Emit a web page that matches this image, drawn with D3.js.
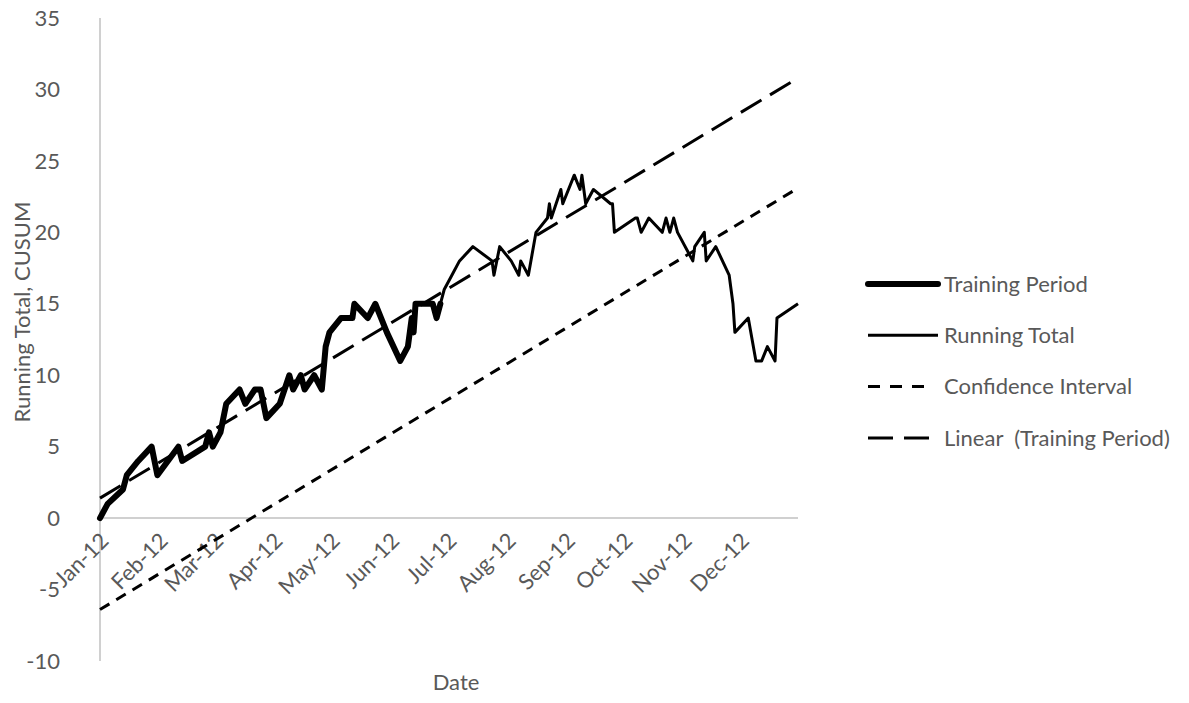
<!DOCTYPE html>
<html>
<head>
<meta charset="utf-8">
<script src="https://cdn.jsdelivr.net/npm/d3@7"></script>
<style>
  body { margin: 0; background: #fff; }
  text { font-family: Lato, "Noto Sans", sans-serif; fill: #595959; white-space: pre; }
</style>
</head>
<body>
<div id="chart"></div>
<script>
// Configurations
const width = 1189;
const height = 703;
const plot = { left: 100, right: 798, top: 18, bottom: 661 };

// CUSUM running total (date, value)
const dates = [
  "2012-01-01", "2012-01-05", "2012-01-13", "2012-01-15", "2012-01-21", "2012-01-28", "2012-01-31",
  "2012-02-11", "2012-02-13", "2012-02-25", "2012-02-27", "2012-02-29", "2012-03-04", "2012-03-07",
  "2012-03-14", "2012-03-17", "2012-03-22", "2012-03-25", "2012-03-28", "2012-04-04", "2012-04-09",
  "2012-04-11", "2012-04-15", "2012-04-17", "2012-04-22", "2012-04-26", "2012-04-28", "2012-04-30",
  "2012-05-06", "2012-05-12", "2012-05-13", "2012-05-20", "2012-05-24", "2012-05-27", "2012-05-30",
  "2012-06-06", "2012-06-10", "2012-06-12", "2012-06-13", "2012-06-14", "2012-06-23", "2012-06-25",
  "2012-06-27",
  // after the training period
  "2012-06-29", "2012-07-03", "2012-07-07", "2012-07-14", "2012-07-24", "2012-07-25", "2012-07-28",
  "2012-08-03", "2012-08-07", "2012-08-08", "2012-08-12", "2012-08-16", "2012-08-22", "2012-08-23",
  "2012-08-24", "2012-08-29", "2012-08-30", "2012-09-05", "2012-09-08", "2012-09-09", "2012-09-11",
  "2012-09-15", "2012-09-24", "2012-09-25", "2012-09-26", "2012-10-07", "2012-10-08", "2012-10-10",
  "2012-10-14", "2012-10-21", "2012-10-23", "2012-10-25", "2012-10-27", "2012-10-29", "2012-11-06",
  "2012-11-07", "2012-11-12", "2012-11-13", "2012-11-18", "2012-11-25", "2012-11-27", "2012-11-28",
  "2012-12-05", "2012-12-09", "2012-12-12", "2012-12-15", "2012-12-19", "2012-12-20", "2012-12-31"
];
const values = [
  0, 1, 2, 3, 4, 5, 3,
  5, 4, 5, 6, 5, 6, 8,
  9, 8, 9, 9, 7, 8, 10,
  9, 10, 9, 10, 9, 12, 13,
  14, 14, 15, 14, 15, 14, 13,
  11, 12, 14, 13, 15, 15, 14,
  15,
  16, 17, 18, 19, 18, 17, 19,
  18, 17, 18, 17, 20, 21, 22,
  21, 23, 22, 24, 23, 24, 22,
  23, 22, 22, 20, 21, 21, 20,
  21, 20, 21, 20, 21, 20, 18,
  19, 20, 18, 19, 17, 15, 13,
  14, 11, 11, 12, 11, 14, 15
];
const trainingEnd = "2012-06-27";

// trend line of the training period and its lower confidence line (start / end values)
const trendDates = ["2012-01-01", "2012-12-31"];
const trendValues = [1.4, 30.8];
const ciValues = [-6.4, 23.1];

const yTicks = [-10, -5, 0, 5, 10, 15, 20, 25, 30, 35];
const seriesNames = ["Training Period", "Running Total", "Confidence Interval", "Linear  (Training Period)"];

const parse = d3.timeParse("%Y-%m-%d");
const data = dates.map((d, i) => ({ date: parse(d), value: values[i] }));
const training = data.filter(d => d.date <= parse(trainingEnd));
const trend = trendDates.map((d, i) => ({ date: parse(d), value: trendValues[i] }));
const ci = trendDates.map((d, i) => ({ date: parse(d), value: ciValues[i] }));

const svg = d3.select("#chart").append("svg")
  .attr("width", width)
  .attr("height", height);

const xScale = d3.scaleTime()
  .domain([parse("2012-01-01"), parse("2012-12-31")])
  .range([plot.left, plot.right]);
const yScale = d3.scaleLinear()
  .domain([-10, 35])
  .range([plot.bottom, plot.top]);

// Assi
svg.append("line")
  .attr("x1", plot.left).attr("x2", plot.left)
  .attr("y1", plot.top).attr("y2", plot.bottom)
  .attr("stroke", "#d0d0d0").attr("stroke-width", 2);
svg.append("line")
  .attr("x1", plot.left).attr("x2", plot.right)
  .attr("y1", yScale(0)).attr("y2", yScale(0))
  .attr("stroke", "#d0d0d0").attr("stroke-width", 2);

svg.append("g")
  .selectAll("text")
  .data(yTicks)
  .join("text")
  .attr("x", 60)
  .attr("y", d => yScale(d))
  .attr("dy", "0.35em")
  .attr("text-anchor", "end")
  .attr("font-size", 22)
  .text(d => d);

const months = d3.timeMonth.range(parse("2012-01-01"), parse("2012-12-31"));
const fmt = d3.timeFormat("%b-%y");
svg.append("g")
  .selectAll("text")
  .data(months)
  .join("text")
  .attr("transform", d => `translate(${xScale(d) + 10},${yScale(0) + 24}) rotate(-45)`)
  .attr("text-anchor", "end")
  .attr("font-size", 22)
  .text(d => fmt(d));

svg.append("text")
  .attr("x", 456)
  .attr("y", 690)
  .attr("text-anchor", "middle")
  .attr("font-size", 22)
  .text("Date");

svg.append("text")
  .attr("transform", "translate(30,312) rotate(-90)")
  .attr("text-anchor", "middle")
  .attr("font-size", 22)
  .text("Running Total, CUSUM");

// Linee
const line = d3.line()
  .x(d => xScale(d.date))
  .y(d => yScale(d.value));

const styles = [
  { width: 6, dash: null },
  { width: 3, dash: null },
  { width: 3, dash: "11,8" },
  { width: 3, dash: "24,10" }
];

svg.append("path").datum(ci).attr("d", line)
  .attr("fill", "none").attr("stroke", "#000")
  .attr("stroke-width", styles[2].width).attr("stroke-dasharray", styles[2].dash);
svg.append("path").datum(trend).attr("d", line)
  .attr("fill", "none").attr("stroke", "#000")
  .attr("stroke-width", styles[3].width).attr("stroke-dasharray", styles[3].dash);
svg.append("path").datum(data).attr("d", line)
  .attr("fill", "none").attr("stroke", "#000")
  .attr("stroke-width", styles[1].width).attr("stroke-linejoin", "round");
svg.append("path").datum(training).attr("d", line)
  .attr("fill", "none").attr("stroke", "#000")
  .attr("stroke-width", styles[0].width).attr("stroke-linejoin", "round")
  .attr("stroke-linecap", "round");

// Legenda
const legend = svg.append("g")
  .selectAll("g")
  .data(seriesNames)
  .join("g")
  .attr("transform", (d, i) => `translate(868,${284 + i * 51.3})`);

legend.append("line")
  .attr("x1", 0).attr("x2", (d, i) => i === 2 ? 58 : 70)
  .attr("stroke", "#000")
  .attr("stroke-width", (d, i) => styles[i].width)
  .attr("stroke-linecap", (d, i) => i === 0 ? "round" : "butt")
  .attr("stroke-dasharray", (d, i) => i === 2 ? "12,10" : i === 3 ? "25,11" : null);

legend.append("text")
  .attr("x", 76)
  .attr("dy", "0.35em")
  .attr("font-size", 22)
  .text(d => d);
</script>
</body>
</html>
